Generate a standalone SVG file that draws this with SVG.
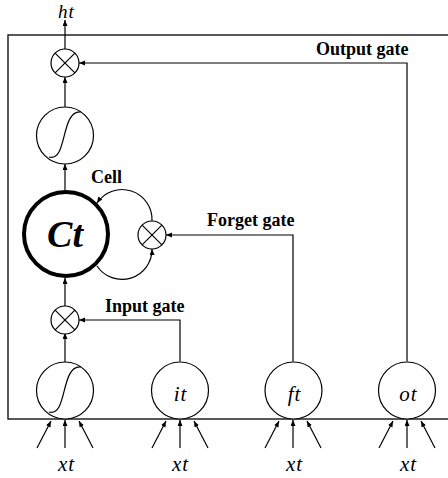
<svg xmlns="http://www.w3.org/2000/svg" width="448" height="478" viewBox="0 0 448 478">
<style>
.ln{fill:none;stroke:#000;stroke-width:1.2}
.c{fill:#fff;stroke:#000;stroke-width:1.2}
.lbl{font-family:"Liberation Serif",serif;font-weight:bold;font-size:18px;fill:#000}
.var{font-family:"Liberation Serif",serif;font-style:italic;font-size:21px;fill:#000}
</style>
<defs>
<marker id="ah" markerUnits="userSpaceOnUse" markerWidth="7" markerHeight="6" refX="6" refY="2.5" orient="auto">
<path d="M0,0 L6,2.5 L0,5 z" fill="#000"/>
</marker>
</defs>
<rect x="8" y="35" width="460" height="384" fill="none" stroke="#000" stroke-width="1.3"/>
<g id="connectors">
<path class="ln" d="M65,49 L65,20" marker-end="url(#ah)"/>
<path class="ln" d="M65,107 L65,77" marker-end="url(#ah)"/>
<path class="ln" d="M65,190 L65,164" marker-end="url(#ah)"/>
<path class="ln" d="M65,306 L65,278" marker-end="url(#ah)"/>
<path class="ln" d="M65,362 L65,333" marker-end="url(#ah)"/>
<path class="ln" d="M407,361.5 L407,63 L79,63" marker-end="url(#ah)"/>
<path class="ln" d="M293,361.5 L293,235 L166,235" marker-end="url(#ah)"/>
<path class="ln" d="M180,361.5 L180,320 L79,320" marker-end="url(#ah)"/>
<path class="ln" d="M152,221 A30,30 0 0 0 97,203" marker-end="url(#ah)"/>
<path class="ln" d="M97,266 A30,30 0 0 0 152,249" marker-end="url(#ah)"/>
<g id="inputs">
<path class="ln" d="M37,448 L51,421" marker-end="url(#ah)"/>
<path class="ln" d="M65,448 L65,420" marker-end="url(#ah)"/>
<path class="ln" d="M93,448 L79,421" marker-end="url(#ah)"/>
<path class="ln" d="M152,448 L166,421" marker-end="url(#ah)"/>
<path class="ln" d="M180,448 L180,420" marker-end="url(#ah)"/>
<path class="ln" d="M208,448 L194,421" marker-end="url(#ah)"/>
<path class="ln" d="M265,448 L279,421" marker-end="url(#ah)"/>
<path class="ln" d="M293,448 L293,420" marker-end="url(#ah)"/>
<path class="ln" d="M321,448 L307,421" marker-end="url(#ah)"/>
<path class="ln" d="M379,448 L393,421" marker-end="url(#ah)"/>
<path class="ln" d="M407,448 L407,420" marker-end="url(#ah)"/>
<path class="ln" d="M435,448 L421,421" marker-end="url(#ah)"/>
</g>
</g>
<g id="out-mult">
<circle class="c" cx="65" cy="63" r="14"/>
<path class="ln" d="M55.1,53.1 L74.9,72.9 M74.9,53.1 L55.1,72.9"/>
</g>
<g id="out-tanh">
<circle class="c" cx="65" cy="135.5" r="28.5"/>
<path class="ln" d="M49,157 C68,162 60,110 81,112"/>
</g>
<g id="cell">
<circle cx="66" cy="234" r="42" fill="#fff" stroke="#000" stroke-width="4"/>
<text x="65" y="247" text-anchor="middle" style="font-family:'Liberation Serif',serif;font-style:italic;font-weight:bold;font-size:38px">Ct</text>
</g>
<g id="forget-mult">
<circle class="c" cx="152" cy="235" r="14"/>
<path class="ln" d="M142.1,225.1 L161.9,244.9 M161.9,225.1 L142.1,244.9"/>
</g>
<g id="in-mult">
<circle class="c" cx="65" cy="320" r="14"/>
<path class="ln" d="M55.1,310.1 L74.9,329.9 M74.9,310.1 L55.1,329.9"/>
</g>
<g id="in-tanh">
<circle class="c" cx="65" cy="390.5" r="28.5"/>
<path class="ln" d="M49,412 C68,417 60,365 81,367"/>
</g>
<g id="gate-i">
<circle class="c" cx="180" cy="390.5" r="28.5"/>
<text class="var" x="180" y="401" text-anchor="middle">i<tspan dx="1">t</tspan></text>
</g>
<g id="gate-f">
<circle class="c" cx="293.5" cy="390.5" r="28.5"/>
<text class="var" x="294" y="401" text-anchor="middle">f<tspan dx="1">t</tspan></text>
</g>
<g id="gate-o">
<circle class="c" cx="407" cy="390.5" r="28.5"/>
<text class="var" x="408" y="401" text-anchor="middle">o<tspan dx="1">t</tspan></text>
</g>
<g id="labels">
<text class="var" x="66" y="18" text-anchor="middle" style="font-size:19px">h<tspan dx="1">t</tspan></text>
<text class="lbl" x="316" y="55">Output gate</text>
<text class="lbl" x="91" y="183">Cell</text>
<text class="lbl" x="207" y="226">Forget gate</text>
<text class="lbl" x="105" y="312">Input gate</text>
<text class="var" x="66" y="471" text-anchor="middle">x<tspan dx="1">t</tspan></text>
<text class="var" x="180" y="471" text-anchor="middle">x<tspan dx="1">t</tspan></text>
<text class="var" x="294" y="471" text-anchor="middle">x<tspan dx="1">t</tspan></text>
<text class="var" x="408" y="471" text-anchor="middle">x<tspan dx="1">t</tspan></text>
</g>
</svg>
